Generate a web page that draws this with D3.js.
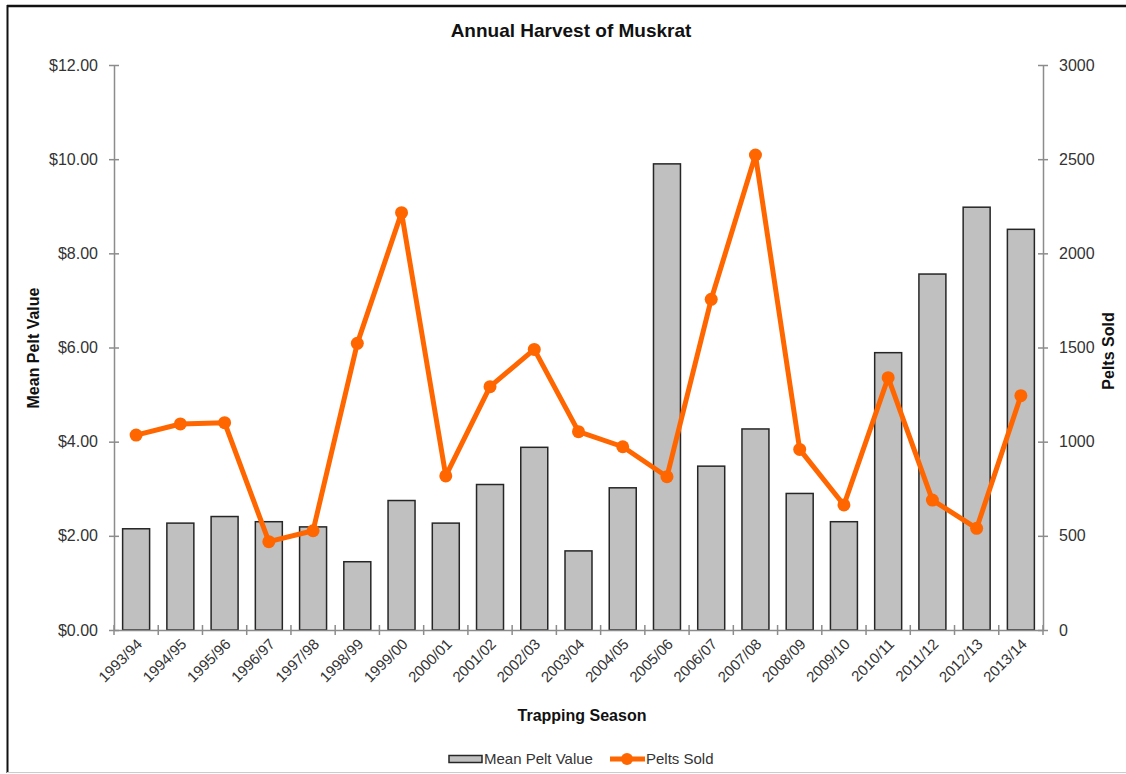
<!DOCTYPE html>
<html>
<head>
<meta charset="utf-8">
<script src="https://cdn.jsdelivr.net/npm/d3@7"></script>
<style>
  body { margin: 0; background: #fff; }
  svg { font-family: "Liberation Sans", Arial, sans-serif; }
</style>
</head>
<body>
<svg id="chart" width="1126" height="774"></svg>
<script>
const seasons = ['1993/94', '1994/95', '1995/96', '1996/97', '1997/98', '1998/99', '1999/00',
    '2000/01', '2001/02', '2002/03', '2003/04', '2004/05', '2005/06', '2006/07',
    '2007/08', '2008/09', '2009/10', '2010/11', '2011/12', '2012/13', '2013/14']

const peltValue = [2.15, 2.27, 2.41, 2.30, 2.19, 1.45, 2.75, 2.27, 3.09, 3.88, 1.68,
    3.02, 9.90, 3.48, 4.27, 2.90, 2.30, 5.89, 7.56, 8.98, 8.51]

const peltsSold = [1035, 1094, 1101, 469, 527, 1522, 2216, 818, 1292, 1490, 1053,
    973, 814, 1756, 2522, 959, 664, 1340, 690, 540, 1244]

const leftTicks = [0, 2, 4, 6, 8, 10, 12]
const rightTicks = [0, 500, 1000, 1500, 2000, 2500, 3000]

const svg = d3.select('#chart')
const plotLeft = 114, plotRight = 1043, plotTop = 65, plotBottom = 630
const axisColor = '#8c8c8c'
const textColor = '#333'
const orange = '#ff6600'

// frame
svg.append('line').attr('x1', 7).attr('x2', 1126).attr('y1', 6).attr('y2', 6)
    .attr('stroke', '#111').attr('stroke-width', 2.5)
svg.append('line').attr('x1', 7.5).attr('x2', 7.5).attr('y1', 5).attr('y2', 773)
    .attr('stroke', '#111').attr('stroke-width', 2)
svg.append('line').attr('x1', 7).attr('x2', 1126).attr('y1', 772.5).attr('y2', 772.5)
    .attr('stroke', '#ccc').attr('stroke-width', 1)

const x = d3.scaleBand().domain(seasons).range([plotLeft, plotRight])
const yL = d3.scaleLinear().domain([0, 12]).range([plotBottom, plotTop])
const yR = d3.scaleLinear().domain([0, 3000]).range([plotBottom, plotTop])
const barW = x.bandwidth() * 0.61

// bars
svg.append('g').selectAll('rect')
    .data(seasons)
    .enter()
    .append('rect')
    .attr('x', d => x(d) + (x.bandwidth() - barW) / 2)
    .attr('y', (d, i) => yL(peltValue[i]))
    .attr('width', barW)
    .attr('height', (d, i) => yL(0) - yL(peltValue[i]))
    .attr('fill', '#c0c0c0')
    .attr('stroke', '#262626')
    .attr('stroke-width', 1.5)

const styleAxis = (g, inner, outer) => {
    g.select('.domain').attr('stroke', axisColor).attr('stroke-width', 1.5)
    g.selectAll('.tick line').attr('stroke', axisColor).attr('stroke-width', 1.5)
        .attr(inner[0], inner[1]).attr(outer[0], outer[1])
    g.selectAll('.tick text').attr('fill', textColor)
}

// left axis
const gL = svg.append('g')
    .attr('transform', `translate(${plotLeft},0)`)
    .call(d3.axisLeft(yL).tickValues(leftTicks).tickFormat(d3.format('$.2f')).tickSizeOuter(0).tickPadding(10))
    .attr('font-size', 16).attr('font-family', null)
styleAxis(gL, ['x1', 5], ['x2', -5])

// right axis
const gR = svg.append('g')
    .attr('transform', `translate(${plotRight},0)`)
    .call(d3.axisRight(yR).tickValues(rightTicks).tickFormat(d3.format('d')).tickSizeOuter(0).tickPadding(10))
    .attr('font-size', 16).attr('font-family', null)
styleAxis(gR, ['x1', -5], ['x2', 5])

// x axis
const gX = svg.append('g')
    .attr('transform', `translate(0,${plotBottom})`)
    .call(d3.axisBottom(x).tickSize(0).tickPadding(0))
    .attr('font-size', 15).attr('font-family', null)
gX.select('.domain').attr('stroke', axisColor).attr('stroke-width', 1.5)
gX.selectAll('.tick text')
    .attr('fill', textColor)
    .attr('text-anchor', 'end')
    .attr('dy', 0)
    .attr('transform', 'translate(7,15) rotate(-45)')

// x tick marks at category boundaries
svg.append('g').selectAll('line')
    .data(seasons.concat(['end']))
    .enter()
    .append('line')
    .attr('x1', (d, i) => i < seasons.length ? x(d) : plotRight)
    .attr('x2', (d, i) => i < seasons.length ? x(d) : plotRight)
    .attr('y1', plotBottom - 5)
    .attr('y2', plotBottom + 5)
    .attr('stroke', axisColor)
    .attr('stroke-width', 1.5)

// line series
const line = d3.line()
    .x((d, i) => x(seasons[i]) + x.bandwidth() / 2)
    .y(d => yR(d))

svg.append('path')
    .datum(peltsSold)
    .attr('d', line)
    .attr('fill', 'none')
    .attr('stroke', orange)
    .attr('stroke-width', 5)
    .attr('stroke-linejoin', 'round')

svg.append('g').selectAll('circle')
    .data(peltsSold)
    .enter()
    .append('circle')
    .attr('cx', (d, i) => x(seasons[i]) + x.bandwidth() / 2)
    .attr('cy', d => yR(d))
    .attr('r', 6.5)
    .attr('fill', orange)

// titles
svg.append('text')
    .attr('x', 571).attr('y', 37)
    .attr('text-anchor', 'middle')
    .attr('font-size', 19).attr('font-weight', 'bold')
    .attr('fill', '#111')
    .text('Annual Harvest of Muskrat')

svg.append('text')
    .attr('transform', 'translate(39,348) rotate(-90)')
    .attr('text-anchor', 'middle')
    .attr('font-size', 16).attr('font-weight', 'bold')
    .attr('fill', '#111')
    .text('Mean Pelt Value')

svg.append('text')
    .attr('transform', 'translate(1114,351) rotate(-90)')
    .attr('text-anchor', 'middle')
    .attr('font-size', 16).attr('font-weight', 'bold')
    .attr('fill', '#111')
    .text('Pelts Sold')

svg.append('text')
    .attr('x', 582).attr('y', 721)
    .attr('text-anchor', 'middle')
    .attr('font-size', 16).attr('font-weight', 'bold')
    .attr('fill', '#111')
    .text('Trapping Season')

// legend
const legend = svg.append('g')
legend.append('rect')
    .attr('x', 449).attr('y', 755.5).attr('width', 33).attr('height', 7)
    .attr('fill', '#c0c0c0').attr('stroke', '#262626').attr('stroke-width', 1.5)
legend.append('text')
    .attr('x', 484).attr('y', 764)
    .attr('font-size', 15).attr('fill', textColor)
    .text('Mean Pelt Value')
legend.append('line')
    .attr('x1', 610).attr('x2', 645).attr('y1', 759).attr('y2', 759)
    .attr('stroke', orange).attr('stroke-width', 5)
legend.append('circle')
    .attr('cx', 627).attr('cy', 759).attr('r', 6)
    .attr('fill', orange)
legend.append('text')
    .attr('x', 646).attr('y', 764)
    .attr('font-size', 15).attr('fill', textColor)
    .text('Pelts Sold')
</script>
</body>
</html>
